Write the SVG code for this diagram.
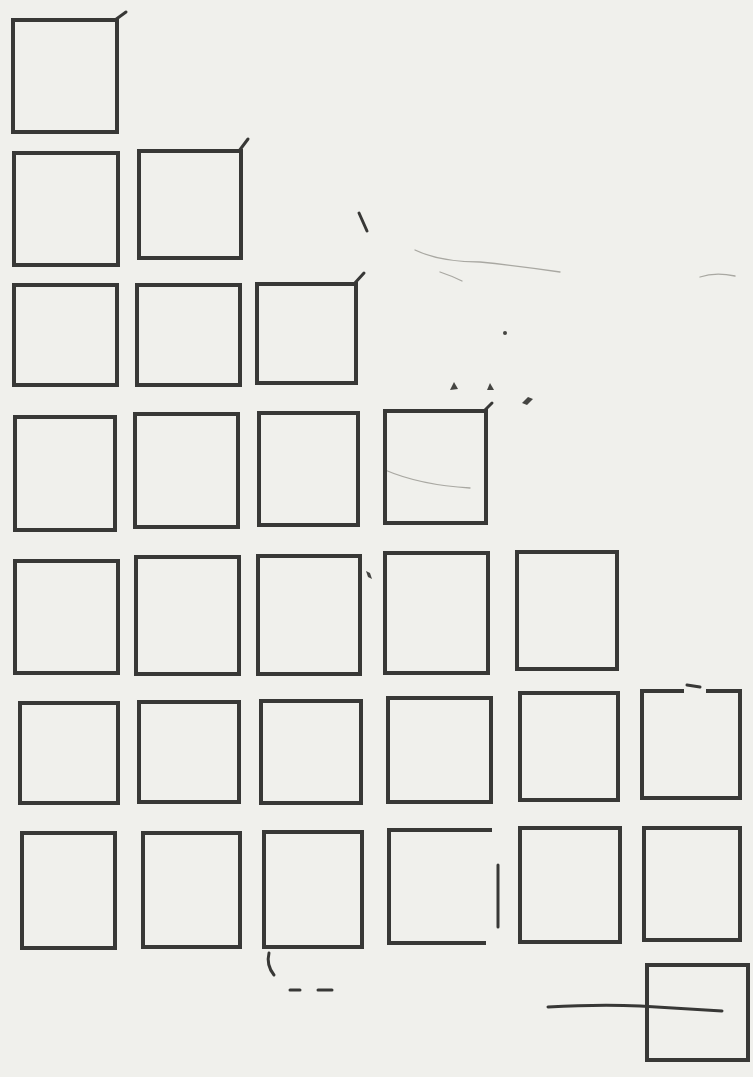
<svg xmlns="http://www.w3.org/2000/svg" width="753" height="1077" viewBox="0 0 753 1077">
<style>
.b{fill:none;stroke:#383836;stroke-width:4;stroke-linejoin:miter}
.m{fill:none;stroke:#383836;stroke-width:3;stroke-linecap:round}
.f{fill:none;stroke:#a9a8a2;stroke-width:1.3;stroke-linecap:round}
.d{fill:#454542}
</style>
<rect width="753" height="1077" fill="#f0f0ec"/>
<g id="paper-marks">
<path class="f" d="M415 250 Q440 262 480 262 Q520 266 560 272" stroke="#8a8984" stroke-width="1.6"/>
<path class="f" d="M440 272 Q452 276 462 281"/>
<path class="f" d="M700 277 Q715 272 735 276"/>
<path class="f" d="M385 470 Q420 485 470 488"/>
<path class="m" d="M359 213 L367 231" stroke-width="2"/>
<path class="d" d="M450 390 l4 -8 l4 7z"/>
<path class="d" d="M487 390 l3 -7 l4 7 z"/>
<path class="d" d="M522 403 l6 -6 l5 2 l-6 6z"/>
<circle class="d" cx="505" cy="333" r="2"/>
<path class="d" d="M366 571 l4 2 l2 6 l-4 -2z"/>
<path class="m" d="M269 953 Q266 965 274 975" stroke-width="2.5"/>
<path class="m" d="M290 990 L300 990 M318 990 L332 990" stroke-width="2.5"/>
<path class="m" d="M548 1007 Q600 1004 640 1006 Q690 1009 722 1011" stroke-width="2.5"/>
</g>
<g id="row1">
<g id="box-1-1"><rect class="b" x="13" y="20" width="104" height="112"/><path class="m" d="M115 20 L126 12"/></g>
</g>
<g id="row2">
<g id="box-2-1"><rect class="b" x="14" y="153" width="104" height="112"/></g>
<g id="box-2-2"><rect class="b" x="139" y="151" width="102" height="107"/><path class="m" d="M239 151 L248 139"/></g>
</g>
<g id="row3">
<g id="box-3-1"><rect class="b" x="14" y="285" width="103" height="100"/></g>
<g id="box-3-2"><rect class="b" x="137" y="285" width="103" height="100"/></g>
<g id="box-3-3"><rect class="b" x="257" y="284" width="99" height="99"/><path class="m" d="M354 284 L364 273" stroke-width="4"/></g>
</g>
<g id="row4">
<g id="box-4-1"><rect class="b" x="15" y="417" width="100" height="113"/></g>
<g id="box-4-2"><rect class="b" x="135" y="414" width="103" height="113"/></g>
<g id="box-4-3"><rect class="b" x="259" y="413" width="99" height="112"/></g>
<g id="box-4-4"><rect class="b" x="385" y="411" width="101" height="112"/><path class="m" d="M484 411 L492 403"/></g>
</g>
<g id="row5">
<g id="box-5-1"><rect class="b" x="15" y="561" width="103" height="112"/></g>
<g id="box-5-2"><rect class="b" x="136" y="557" width="103" height="117"/></g>
<g id="box-5-3"><rect class="b" x="258" y="556" width="102" height="118"/></g>
<g id="box-5-4"><rect class="b" x="385" y="553" width="103" height="120"/></g>
<g id="box-5-5"><rect class="b" x="517" y="552" width="100" height="117"/></g>
</g>
<g id="row6">
<g id="box-6-1"><rect class="b" x="20" y="703" width="98" height="100"/></g>
<g id="box-6-2"><rect class="b" x="139" y="702" width="100" height="100"/></g>
<g id="box-6-3"><rect class="b" x="261" y="701" width="100" height="102"/></g>
<g id="box-6-4"><rect class="b" x="388" y="698" width="103" height="104"/></g>
<g id="box-6-5"><rect class="b" x="520" y="693" width="98" height="107"/></g>
<g id="box-6-6"><path class="b" d="M684 691 L642 691 L642 798 L740 798 L740 691 L706 691"/><path class="m" d="M687 685 L700 687"/></g>
</g>
<g id="row7">
<g id="box-7-1"><rect class="b" x="22" y="833" width="93" height="115"/></g>
<g id="box-7-2"><rect class="b" x="143" y="833" width="97" height="114"/></g>
<g id="box-7-3"><rect class="b" x="264" y="832" width="98" height="115"/></g>
<g id="box-7-4"><path class="b" d="M492 830 L389 830 L389 943 L486 943"/><path class="m" d="M498 865 L498 927" stroke-width="4"/></g>
<g id="box-7-5"><rect class="b" x="520" y="828" width="100" height="114"/></g>
<g id="box-7-6"><rect class="b" x="644" y="828" width="96" height="112"/></g>
</g>
<g id="row8">
<g id="box-8-6"><rect class="b" x="647" y="965" width="101" height="95"/></g>
</g>
</svg>
